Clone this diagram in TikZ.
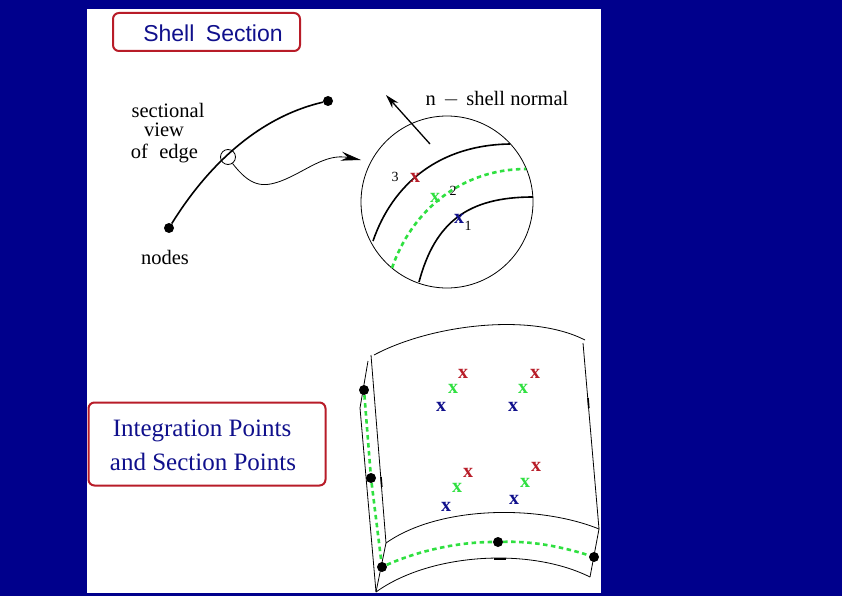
\documentclass[tikz,border=0pt]{standalone}
\usepackage{fontspec}
\setmainfont{Liberation Serif}
\setsansfont{Liberation Sans}
\usetikzlibrary{arrows.meta}
\definecolor{navy}{HTML}{00008C}
\definecolor{boxred}{HTML}{B81C28}
\definecolor{ptgreen}{HTML}{2FE040}
\definecolor{ptblue}{HTML}{10108C}
\begin{document}
\begin{tikzpicture}[
  x=1pt, y=-1pt,
  nd/.style={circle, fill=black, inner sep=0pt, minimum size=10pt},
  pt/.style={inner sep=0pt, font=\bfseries\fontsize{20}{20}\selectfont},
  lbl/.style={inner sep=0pt, font=\fontsize{20.5}{20.5}\selectfont},
  num/.style={inner sep=0pt, font=\fontsize{14}{14}\selectfont},
  tag/.style={draw=boxred, line width=2pt, rounded corners=6pt, fill=white},
  thin line/.style={line width=0.8pt},
  thick line/.style={line width=1.6pt},
  mid/.style={line width=2.6pt, ptgreen, dash pattern=on 4.5pt off 3.5pt}]

% --- Background ---
\fill[navy] (0, 0) rectangle (842, 596);
\fill[white] (87, 9) rectangle (601, 593);
\useasboundingbox (0, 0) rectangle (842, 596);

% --- Title boxes ---
\node[tag, minimum width=187pt, minimum height=38pt] (title) at (206.5, 32) {};
\node[inner sep=0pt, text=ptblue, font=\sffamily\fontsize{23}{23}\selectfont]
  (titletext) at (213, 33) {Shell\hspace{0.5em}Section};
\node[tag, minimum width=237pt, minimum height=83pt] (ipbox) at (207, 444) {};
\node[inner sep=0pt, text=ptblue, font=\fontsize{25}{25}\selectfont]
  (ip1) at (202, 430.5) {Integration Points};
\node[inner sep=0pt, text=ptblue, font=\fontsize{25}{25}\selectfont]
  (ip2) at (203, 461.5) {and Section Points};

% --- Sectional view of edge ---
\node[nd] (na) at (169, 228) {};
\node[nd] (nb) at (328, 101) {};
\draw[thick line] (na) .. controls (205, 170) and (255, 118) .. (nb);
\node[circle, draw, thin line, inner sep=0pt, minimum size=15pt] (ring) at (228, 157) {};
\node[lbl] (sec1) at (168, 110) {sectional};
\node[lbl] (sec2) at (164, 130) {view};
\node[lbl] (sec3) at (164.5, 153) {of\hspace{0.55em}edge};
\node[lbl] (nodes) at (165, 257) {nodes};

% --- Enlarged section ---
\node[circle, draw, thin line, inner sep=0pt, minimum size=172pt] (zoomc) at (447, 202) {};
\coordinate (u0) at (373, 241);
\coordinate (u1) at (510, 144);
\coordinate (g0) at (392, 268);
\coordinate (g1) at (526, 169);
\coordinate (l0) at (419, 282);
\coordinate (l1) at (533, 197);
\draw[thick line] (u0) .. controls (393, 183) and (440, 145) .. (u1);
\draw[mid] (g0) .. controls (412, 210) and (462, 169) .. (g1);
\draw[thick line] (l0) .. controls (435, 222) and (468, 197) .. (l1);

\draw[thin line, -{Stealth[length=20pt, width=9pt]}] (ring.-55)
  .. controls (250, 186) and (262, 188) .. (281, 181)
  .. controls (305, 172) and (325, 153) .. (361, 160);

% --- Shell normal ---
\coordinate (nfoot) at (430, 144);
\coordinate (ntip) at (386, 95);
\draw[line width=1.3pt, -{Stealth[length=14pt, width=8pt]}] (nfoot) -- (ntip);
\node[lbl] (ntext) at (497, 99) {n\hspace{0.35em}$-$\hspace{0.35em}shell normal};

% --- Section points ---
\node[pt, text=boxred] (s3) at (415, 178) {x};
\node[pt, text=ptgreen] (s2) at (435, 198) {x};
\node[pt, text=ptblue] (s1) at (459, 219) {x};
\node[num] (t3) at (395, 177) {3};
\node[num] (t2) at (453, 191) {2};
\node[num] (t1) at (468, 226) {1};

% --- Shell element outline ---
\coordinate (tl) at (374, 355);
\coordinate (tr) at (585, 340);
\coordinate (rt) at (583, 343);
\coordinate (br) at (599, 529);
\coordinate (il) at (386, 543);
\coordinate (ll) at (376, 592);
\coordinate (lr) at (590, 577);
\coordinate (st) at (371, 355);
\coordinate (sl) at (368, 361);
\draw[thin line] (tl) .. controls (430, 325) and (530, 312) .. (tr);
\draw[thin line] (rt) -- (br);
\draw[thin line] (st) -- (il);
\draw[thin line] (il) .. controls (440, 505) and (540, 505) .. (br);
\draw[thin line] (ll) .. controls (430, 553) and (530, 547) .. (lr);
\draw[thin line] (br) -- (lr);
\draw[thin line] (il) -- (ll);
\draw[thin line] (sl) -- (360, 408) -- (ll);
\draw[thick line] (588, 398) -- (588.8, 408);
\draw[thick line] (381, 477) -- (381.8, 487);
\draw[thick line] (494, 559) -- (506, 559);

% --- Mid surface nodes ---
\node[nd] (m1) at (364, 390) {};
\node[nd] (m2) at (371, 478) {};
\node[nd] (m3) at (382, 567) {};
\node[nd] (m4) at (498, 542) {};
\node[nd] (m5) at (594, 557) {};
\draw[mid] (m1) -- (m2);
\draw[mid] (m2) -- (m3);
\draw[mid] (m3) .. controls (420, 550) and (460, 542) .. (m4);
\draw[mid] (m4) .. controls (530, 541) and (560, 546) .. (m5);

% --- Integration points ---
\foreach \i/\x/\y in {1/463/374, 2/535/374, 3/468/473, 4/536/467} {
  \node[pt, text=boxred] (r\i) at (\x, \y) {x};
}
\foreach \i/\x/\y in {1/453/389, 2/523/389, 3/457/488, 4/525/483} {
  \node[pt, text=ptgreen] (g\i) at (\x, \y) {x};
}
\foreach \i/\x/\y in {1/441/407, 2/513/407, 3/446/507, 4/514/500} {
  \node[pt, text=ptblue] (b\i) at (\x, \y) {x};
}

\end{tikzpicture}
\end{document}
